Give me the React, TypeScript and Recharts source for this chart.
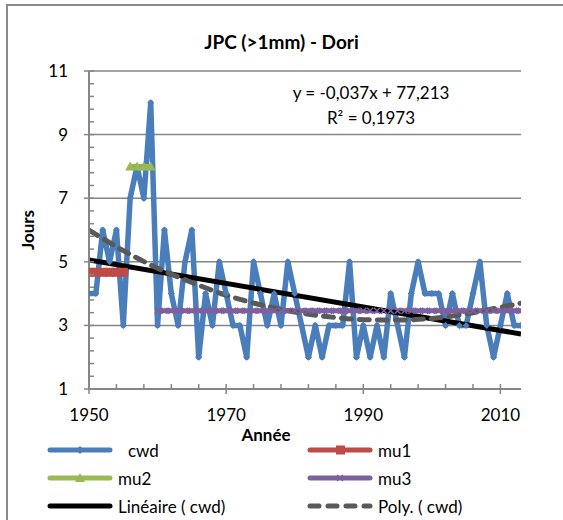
import React from "react";
import { ComposedChart, Line, XAxis, YAxis, ReferenceLine } from "recharts";

// --- data ---
const firstYear = 1950;
const cwd = [
  4, 4, 6, 5, 6, 3, 7, 8, 7, 10,
  3, 6, 4, 3, 5, 6, 2, 4, 3, 5,
  4, 3, 3, 2, 5, 4, 3, 4, 3, 5,
  4, 3, 2, 3, 2, 3, 3, 3, 5, 2,
  3, 2, 3, 2, 4, 3, 2, 4, 5, 4,
  4, 4, 3, 4, 3, 3, 4, 5, 3, 2,
  3, 4, 3, 3,
];

const mu1 = { from: 1950, to: 1955, value: 4.67 };
const mu2 = { from: 1956, to: 1959, value: 8 };
const mu3 = { from: 1960, to: 2013, value: 3.46 };

const linYears = [1950, 2013];
const linValues = [5.06, 2.73];

const polyYears = [1950, 1955, 1960, 1965, 1970, 1975, 1980, 1985, 1990, 1995, 2000, 2005, 2010, 2013];
const polyValues = [6.0, 5.35, 4.8, 4.35, 3.95, 3.65, 3.42, 3.27, 3.18, 3.17, 3.22, 3.36, 3.57, 3.7];

const xLabelTicks = [1950, 1970, 1990, 2010];
const yLabelTicks = [1, 3, 5, 7, 9, 11];

const equation = "y = -0,037x + 77,213";
const rSquared = "R² = 0,1973";

// --- styling ---
const FONT = "Lato, 'Open Sans', sans-serif";
const AXIS = "#868686";
const C_CWD = "#4A7EBB";
const C_MU1 = "#BE4B48";
const C_MU2 = "#98B954";
const C_MU3 = "#7D60A0";
const C_POLY = "#595959";

const xMinorTicks = Array.from({ length: 16 }, (_, i) => 1950 + i * 4);
const yMinorTicks = Array.from({ length: 26 }, (_, i) => +(1 + i * 0.4).toFixed(1));

const inRange = (y: number, seg: { from: number; to: number; value: number }) =>
  y >= seg.from && y <= seg.to ? seg.value : null;

const rows = cwd.map((v, i) => {
  const year = firstYear + i;
  return { year, cwd: v, mu1: inRange(year, mu1), mu2: inRange(year, mu2), mu3: inRange(year, mu3) };
});
const linData = linYears.map((year, i) => ({ year, value: linValues[i] }));
const polyData = polyYears.map((year, i) => ({ year, value: polyValues[i] }));

const diamond = (p: any) => {
  const { cx, cy, key } = p;
  if (cx == null || cy == null) return <g key={key} />;
  return <path key={key} d={`M${cx},${cy - 3.5}L${cx + 3.5},${cy}L${cx},${cy + 3.5}L${cx - 3.5},${cy}Z`} fill={C_CWD} />;
};
const square = (p: any) => {
  const { cx, cy, key } = p;
  if (cx == null || cy == null) return <g key={key} />;
  return <rect key={key} x={cx - 4.5} y={cy - 4.5} width={9} height={9} fill={C_MU1} />;
};
const triangle = (p: any) => {
  const { cx, cy, key } = p;
  if (cx == null || cy == null) return <g key={key} />;
  return <path key={key} d={`M${cx},${cy - 5}L${cx + 5},${cy + 4}L${cx - 5},${cy + 4}Z`} fill={C_MU2} />;
};
const cross = (p: any) => {
  const { cx, cy, key } = p;
  if (cx == null || cy == null) return <g key={key} />;
  return (
    <path key={key} d={`M${cx - 3},${cy - 3}L${cx + 3},${cy + 3}M${cx + 3},${cy - 3}L${cx - 3},${cy + 3}`}
      stroke={C_MU3} strokeWidth={1.5} />
  );
};

const XTick = (props: any) => {
  const { x, y, payload } = props;
  const major = xLabelTicks.includes(payload.value);
  return (
    <g>
      <line x1={x} x2={x} y1={y - 5} y2={major ? y + 5 : y} stroke={AXIS} strokeWidth={1.5} />
      {major && (
        <text x={x} y={y + 32} textAnchor="middle" fontSize={17} fontFamily={FONT} fill="#000">
          {payload.value}
        </text>
      )}
    </g>
  );
};

const YTick = (props: any) => {
  const { x, y, payload } = props;
  const major = yLabelTicks.includes(payload.value);
  return (
    <g>
      <line x1={major ? x - 5 : x} x2={x + 5} y1={y} y2={y} stroke={AXIS} strokeWidth={1.5} />
      {major && (
        <text x={x - 21} y={y + 6} textAnchor="end" fontSize={17} fontFamily={FONT} fill="#000">
          {payload.value}
        </text>
      )}
    </g>
  );
};

const YTitle = (props: any) => {
  const { viewBox } = props;
  const cx = viewBox.x + 28;
  const cy = viewBox.y + viewBox.height / 2;
  return (
    <text x={cx} y={cy} transform={`rotate(-90 ${cx} ${cy})`} textAnchor="middle" dy={6}
      fontSize={17} fontWeight="bold" fontFamily={FONT} fill="#000">Jours</text>
  );
};

const XTitle = (props: any) => {
  const { viewBox } = props;
  return (
    <text x={viewBox.x + 177} y={viewBox.y + 52} textAnchor="middle"
      fontSize={17} fontWeight="bold" fontFamily={FONT} fill="#000">Année</text>
  );
};

type LegendItem = { label: string; color: string; marker: string; dashed?: boolean; pad?: number };
const legendItems: LegendItem[] = [
  { label: "cwd", color: C_CWD, marker: "diamond", pad: 10 },
  { label: "mu1", color: C_MU1, marker: "square" },
  { label: "mu2", color: C_MU2, marker: "triangle" },
  { label: "mu3", color: C_MU3, marker: "cross" },
  { label: "Linéaire ( cwd)", color: "#000", marker: "none" },
  { label: "Poly. ( cwd)", color: C_POLY, marker: "none", dashed: true },
];

const LegendSample = ({ item }: { item: LegendItem }) => {
  const m = item.marker;
  return (
    <svg width={66} height={14} style={{ display: "block" }}>
      <line x1={3} x2={63} y1={7} y2={7} stroke={item.color} strokeWidth={5} strokeLinecap="round"
        strokeDasharray={item.dashed ? "9 9" : undefined} />
      {m === "diamond" && <path d="M33,3L37,7L33,11L29,7Z" fill={item.color} />}
      {m === "square" && <rect x={29} y={2.5} width={9} height={9} fill={item.color} />}
      {m === "triangle" && <path d="M33,2L38,11L28,11Z" fill={item.color} />}
      {m === "cross" && <path d="M30,4L36,10M36,4L30,10" stroke={item.color} strokeWidth={1.5} />}
    </svg>
  );
};

export default function App() {
  return (
    <div style={{ position: "absolute", left: 0, top: 0, width: 563, height: 520, background: "#fff", overflow: "hidden", fontFamily: FONT }}>
      <div style={{ position: "absolute", left: 6, top: 4, width: 600, height: 600, borderLeft: "2px solid #8a8a8a", borderTop: "2px solid #8a8a8a" }} />
      <div style={{ position: "absolute", left: 0, width: 563, top: 30, textAlign: "center", fontSize: 19, fontWeight: "bold", lineHeight: "24px" }}>
        JPC (&gt;1mm) - Dori
      </div>
      <ComposedChart width={563} height={520} data={rows} margin={{ top: 71, right: 42, left: 0, bottom: 0 }}>
        <XAxis dataKey="year" type="number" domain={[1950, 2013]} ticks={xMinorTicks} interval={0}
          height={131} tickSize={0} tickMargin={0} tick={<XTick />} stroke={AXIS} strokeWidth={2}
          allowDataOverflow label={<XTitle />} />
        <YAxis type="number" domain={[1, 11]} ticks={yMinorTicks} interval={0} width={89}
          tickSize={0} tickMargin={0} tick={<YTick />} stroke={AXIS} strokeWidth={2}
          allowDataOverflow label={<YTitle />} />
        {yLabelTicks.slice(1).map((v) => (
          <ReferenceLine key={v} y={v} stroke={AXIS} strokeWidth={1.5} />
        ))}
        <Line dataKey="cwd" stroke={C_CWD} strokeWidth={5.5} dot={diamond} isAnimationActive={false}
          strokeLinejoin="round" strokeLinecap="round" />
        <Line dataKey="mu1" stroke={C_MU1} strokeWidth={5} dot={square} isAnimationActive={false} />
        <Line dataKey="mu2" stroke={C_MU2} strokeWidth={5} dot={triangle} isAnimationActive={false} />
        <Line dataKey="mu3" stroke={C_MU3} strokeWidth={5} dot={cross} isAnimationActive={false} />
        <Line data={linData} dataKey="value" stroke="#000" strokeWidth={5} dot={false} isAnimationActive={false} />
        <Line data={polyData} dataKey="value" type="monotone" stroke={C_POLY} strokeWidth={5}
          strokeDasharray="10 8" strokeLinecap="round" dot={false} isAnimationActive={false} />
      </ComposedChart>
      <div style={{ position: "absolute", left: 271, width: 200, top: 80, textAlign: "center", fontSize: 17, lineHeight: "25px" }}>
        <div>{equation}</div>
        <div>{rSquared}</div>
      </div>
      {legendItems.map((item, i) => {
        const col = i % 2;
        const row = Math.floor(i / 2);
        return (
          <div key={item.label} style={{ position: "absolute", left: col === 0 ? 47 : 307, top: 440 + row * 28, height: 20, display: "flex", alignItems: "center", fontSize: 17 }}>
            <LegendSample item={item} />
            <span style={{ marginLeft: 5 + (item.pad || 0) }}>{item.label}</span>
          </div>
        );
      })}
    </div>
  );
}
